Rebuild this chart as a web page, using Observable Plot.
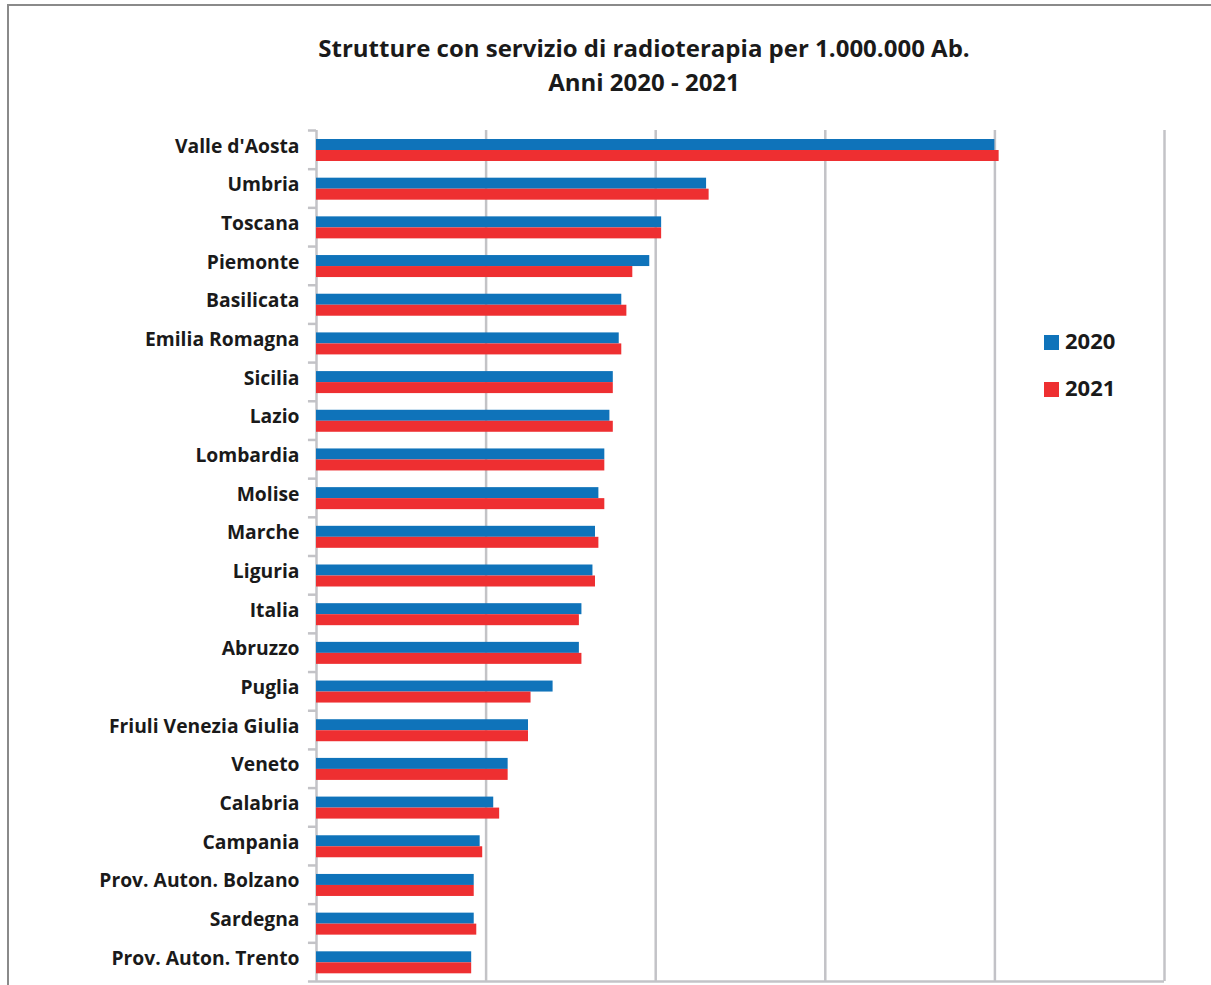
<!DOCTYPE html>
<html>
<head>
<meta charset="utf-8">
<script src="https://cdn.jsdelivr.net/npm/d3@7"></script>
<script src="https://cdn.jsdelivr.net/npm/@observablehq/plot@0.6"></script>
<style>
  html, body { margin: 0; padding: 0; background: #fff; overflow: hidden; }
  #wrap { position: relative; width: 1211px; height: 985px; font-family: "Open Sans", Lato, sans-serif; }
  #frame { position: absolute; left: 7px; top: 4px; width: 1300px; height: 1100px;
           border-top: 2px solid #8a8a8a; border-left: 2px solid #8a8a8a; }
  #title { position: absolute; left: 0; width: 1288px; top: 31px; text-align: center;
           font-weight: 700; font-size: 24px; line-height: 34px; color: #1a1a1a; }
  #chart { position: absolute; left: 0; top: 0; }
  .leg { position: absolute; left: 1044px; font-weight: 700; font-size: 22px; color: #1a1a1a; line-height: 26px; }
  .leg span.sw { display: inline-block; width: 15px; height: 15px; margin-right: 6px; vertical-align: -1px; }
</style>
</head>
<body>
<div id="wrap">
  <div id="frame"></div>
  <div id="chart"></div>
  <div id="title">Strutture con servizio di radioterapia per 1.000.000 Ab.<br>Anni 2020 - 2021</div>
  <div class="leg" id="leg2020" style="top:327px"><span class="sw" style="background:#0f73ba"></span>2020</div>
  <div class="leg" id="leg2021" style="top:374px"><span class="sw" style="background:#ee2f31"></span>2021</div>
</div>
<script>
const regions = ["Valle d'Aosta","Umbria","Toscana","Piemonte","Basilicata","Emilia Romagna","Sicilia","Lazio","Lombardia","Molise","Marche","Liguria","Italia","Abruzzo","Puglia","Friuli Venezia Giulia","Veneto","Calabria","Campania","Prov. Auton. Bolzano","Sardegna","Prov. Auton. Trento"];
const values2020 = [8.00,4.60,4.07,3.93,3.60,3.57,3.50,3.46,3.40,3.33,3.29,3.26,3.13,3.10,2.79,2.50,2.26,2.09,1.93,1.86,1.86,1.83];
const values2021 = [8.05,4.63,4.07,3.73,3.66,3.60,3.50,3.50,3.40,3.40,3.33,3.29,3.10,3.13,2.53,2.50,2.26,2.16,1.96,1.86,1.89,1.83];
const years = ["2020","2021"];
const colors = ["#0f73ba","#ee2f31"];
const gridTicks = [2,4,6,8,10];

const d2020 = regions.map((r,i)=>({region:r, value:values2020[i], year:years[0]}));
const d2021 = regions.map((r,i)=>({region:r, value:values2021[i], year:years[1]}));

const H = 985, mT = 130, mB = 4;
const step = (H - mT - mB) / regions.length;

const chart = Plot.plot({
  width: 1211,
  height: H,
  marginTop: mT,
  marginBottom: mB,
  marginLeft: 316,
  marginRight: 47,
  style: {fontFamily: "'Open Sans', Lato, sans-serif", color: "#1a1a1a", background: "transparent", overflow: "visible"},
  x: {domain: [0, 10], axis: null},
  y: {domain: regions, padding: 0, round: false, axis: null, label: null},
  marks: [
    Plot.ruleX(gridTicks, {stroke: "#c3c3c7", strokeWidth: 2.5}),
    Plot.ruleX([0], {stroke: "#c3c3c7", strokeWidth: 2.5}),
    Plot.ruleY(regions, {y: d => d, x1: -0.095, x2: 0, dy: -step/2, stroke: "#c3c3c7", strokeWidth: 2.5, clip: false}),
    Plot.ruleY([regions[regions.length-1]], {y: d => d, x1: -0.095, x2: 10, dy: step/2, stroke: "#c3c3c7", strokeWidth: 2.5}),
    Plot.tickX([0, ...gridTicks], {x: d => d, y1: 0, y2: 0, stroke: "#c3c3c7"}),
    Plot.barX(d2020, {y: "region", x: "value", fill: colors[0], insetTop: 9, insetBottom: step - 20}),
    Plot.barX(d2021, {y: "region", x: "value", fill: colors[1], insetTop: 20, insetBottom: step - 31}),
    Plot.axisY({label: null, tickSize: 0, tickPadding: 17, fontSize: 19.3, fontWeight: "bold", dy: -3.5, fill: "#1a1a1a"})
  ]
});
document.getElementById("chart").appendChild(chart);
</script>
</body>
</html>
